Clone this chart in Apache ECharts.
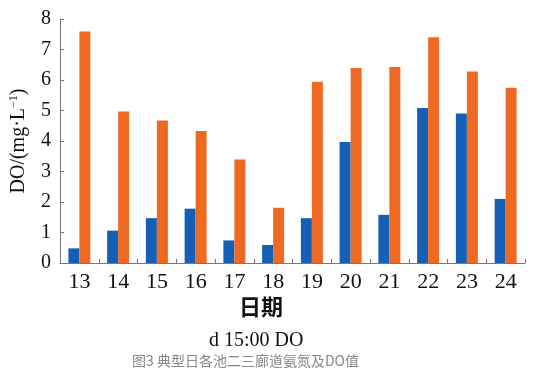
<!DOCTYPE html>
<html>
<head>
<meta charset="utf-8">
<script src="https://cdn.jsdelivr.net/npm/echarts@6/dist/echarts.min.js"></script>
<style>
  html, body { margin: 0; padding: 0; background: #fff; }
  #chart { width: 555px; height: 377px; }
</style>
</head>
<body>
<div id="chart"></div>
<script>
const days = ["13", "14", "15", "16", "17", "18", "19", "20", "21", "22", "23", "24"];
const doBlue = [0.48, 1.06, 1.47, 1.78, 0.74, 0.59, 1.47, 3.97, 1.58, 5.08, 4.9, 2.1];
const doOrange = [7.59, 4.97, 4.67, 4.33, 3.39, 1.81, 5.94, 6.39, 6.43, 7.4, 6.28, 5.75];
const yTicks = [0, 1, 2, 3, 4, 5, 6, 7, 8];

const serif = "'Liberation Serif', 'DejaVu Serif', serif";
const axisColor = "#777";

const chart = echarts.init(document.getElementById("chart"));
chart.setOption({
  animation: false,
  grid: { left: 60, right: 30, top: 19, bottom: 114 },
  graphic: [
    {
      type: "text", left: 239, top: 296,
      style: { text: "日期", font: "bold 22px 'Noto Sans CJK SC'", fill: "#111" }
    },
    {
      type: "text", left: 209, top: 331,
      style: { text: "d 15:00 DO", font: "20px " + serif, fill: "#111" }
    },
    {
      type: "text", left: 132, top: 354,
      style: { text: "图3 典型日各池二三廊道氨氮及DO值", font: "14px 'Noto Sans CJK SC'", fill: "#888" }
    }
  ],
  xAxis: {
    type: "category",
    data: days,
    axisLine: { lineStyle: { color: axisColor, width: 1 } },
    axisTick: { show: true, inside: true, length: 4, alignWithLabel: false, lineStyle: { color: axisColor } },
    axisLabel: { color: "#111", fontFamily: serif, fontSize: 22, margin: 8 }
  },
  yAxis: {
    type: "value",
    min: 0, max: 8, interval: 1,
    name: "{a|DO/(mg·L}{s|−1}{a|)}",
    nameLocation: "middle",
    nameRotate: 90,
    nameGap: 30,
    nameTextStyle: {
      rich: {
        a: { fontFamily: serif, fontSize: 20, color: "#111" },
        s: { fontFamily: serif, fontSize: 12, color: "#111", verticalAlign: "top", padding: [0, 0, 10, 0] }
      }
    },
    splitLine: { show: false },
    axisLine: { show: true, lineStyle: { color: axisColor, width: 1 } },
    axisTick: { show: true, inside: true, length: 4, lineStyle: { color: axisColor } },
    axisLabel: {
      color: "#111", fontFamily: serif, fontSize: 20, margin: 9,
      formatter: (v) => (yTicks.includes(v) ? String(v) : "")
    }
  },
  series: [
    {
      name: "blue", type: "bar", data: doBlue,
      barWidth: 11, barGap: "0%",
      itemStyle: { color: "#1560b7" }
    },
    {
      name: "orange", type: "bar", data: doOrange,
      barWidth: 11, barGap: "0%",
      itemStyle: { color: "#ee6a22" }
    }
  ]
});
</script>
</body>
</html>
